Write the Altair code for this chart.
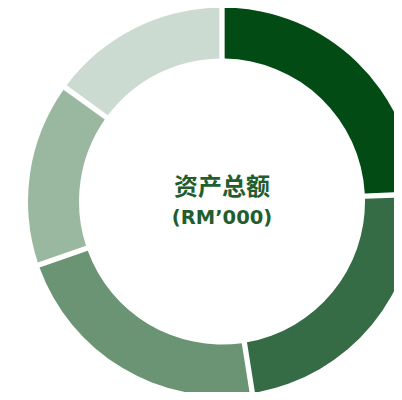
import altair as alt
import pandas as pd

categories = ["A", "B", "C", "D", "E"]
values = [24.4, 23.1, 22.2, 15.3, 15.0]
colors = ["#024b14", "#356b45", "#6a9474", "#9ab8a0", "#ccdbd2"]
title_lines = ["资产总额", "(RM’000)"]

df = pd.DataFrame({"category": categories, "value": values, "idx": list(range(len(values)))})

arc = alt.Chart(df).mark_arc(outerRadius=194, innerRadius=143, padAngle=0.022).encode(
    theta=alt.Theta("value:Q", stack=True),
    order=alt.Order("idx:Q"),
    color=alt.Color("category:N", scale=alt.Scale(domain=categories, range=colors), legend=None),
    x=alt.value(214),
    y=alt.value(193.5),
)

t1 = alt.Chart(pd.DataFrame({"t": [title_lines[0]]})).mark_text(
    font="Noto Sans CJK SC", fontSize=24, fontWeight="bold", color="#235d2e", baseline="middle", align="center"
).encode(text="t:N", x=alt.value(214), y=alt.value(180))

t2 = alt.Chart(pd.DataFrame({"t": [title_lines[1]]})).mark_text(
    font="DejaVu Sans", fontSize=19.5, fontWeight="bold", color="#235d2e", baseline="middle", align="center"
).encode(text="t:N", x=alt.value(214), y=alt.value(209.5))

chart = alt.layer(arc, t1, t2).properties(
    width=386, height=384, autosize="none", padding=0
).configure_view(stroke=None)

chart.save("out.html", embed_options={"renderer": "svg", "actions": False})
